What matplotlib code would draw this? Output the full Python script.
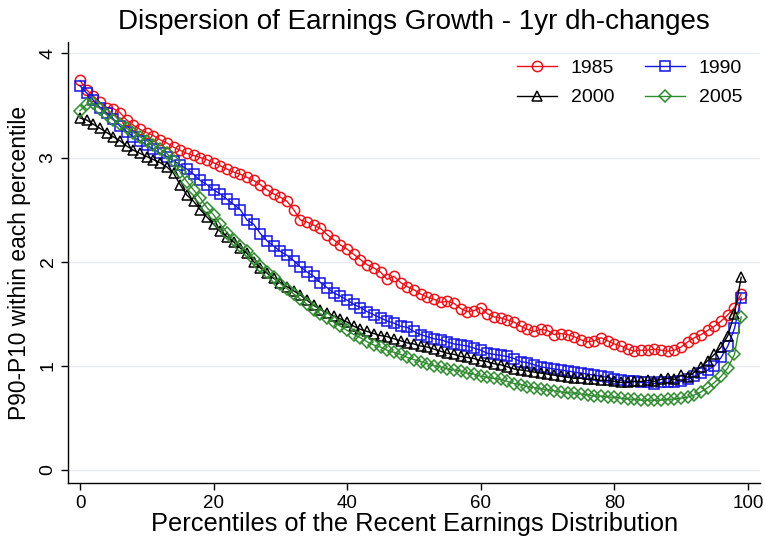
import numpy as np
import matplotlib
matplotlib.use('Agg')
import matplotlib.pyplot as plt

# percentile index 0..99
pct = np.arange(100)

p1985 = [3.74, 3.65, 3.59, 3.53, 3.48, 3.47, 3.43, 3.36, 3.31, 3.27,
         3.24, 3.21, 3.17, 3.14, 3.10, 3.07, 3.04, 3.02, 3.00, 2.98,
         2.95, 2.92, 2.89, 2.86, 2.84, 2.81, 2.78, 2.74, 2.69, 2.65,
         2.62, 2.58, 2.50, 2.40, 2.38, 2.35, 2.32, 2.26, 2.21, 2.16,
         2.12, 2.07, 2.02, 1.97, 1.94, 1.90, 1.83, 1.86, 1.80, 1.76,
         1.73, 1.69, 1.66, 1.64, 1.61, 1.62, 1.60, 1.55, 1.52, 1.53,
         1.56, 1.50, 1.47, 1.46, 1.44, 1.42, 1.38, 1.35, 1.33, 1.35,
         1.34, 1.30, 1.31, 1.30, 1.28, 1.25, 1.23, 1.24, 1.27, 1.24,
         1.21, 1.19, 1.16, 1.14, 1.15, 1.15, 1.16, 1.15, 1.14, 1.15,
         1.18, 1.23, 1.27, 1.30, 1.34, 1.38, 1.43, 1.49, 1.56, 1.69]

p1990 = [3.69, 3.62, 3.55, 3.48, 3.43, 3.37, 3.30, 3.25, 3.20, 3.16,
         3.12, 3.08, 3.04, 3.01, 2.97, 2.93, 2.89, 2.84, 2.78, 2.74,
         2.69, 2.65, 2.60, 2.55, 2.50, 2.40, 2.36, 2.27, 2.20, 2.15,
         2.10, 2.06, 2.01, 1.95, 1.90, 1.86, 1.80, 1.75, 1.70, 1.67,
         1.63, 1.59, 1.56, 1.52, 1.49, 1.46, 1.43, 1.41, 1.38, 1.37,
         1.33, 1.30, 1.28, 1.26, 1.25, 1.23, 1.21, 1.20, 1.19, 1.17,
         1.15, 1.12, 1.11, 1.10, 1.09, 1.07, 1.04, 1.03, 1.01, 0.99,
         0.98, 0.97, 0.96, 0.95, 0.94, 0.93, 0.92, 0.91, 0.90, 0.89,
         0.87, 0.86, 0.85, 0.85, 0.84, 0.84, 0.83, 0.84, 0.84, 0.84,
         0.85, 0.87, 0.90, 0.93, 0.96, 1.00, 1.08, 1.19, 1.36, 1.65]

p2000 = [3.38, 3.36, 3.32, 3.28, 3.24, 3.20, 3.16, 3.11, 3.07, 3.04,
         3.01, 2.98, 2.95, 2.91, 2.85, 2.74, 2.64, 2.58, 2.50, 2.43,
         2.36, 2.29, 2.24, 2.19, 2.13, 2.08, 2.00, 1.94, 1.89, 1.84,
         1.80, 1.76, 1.72, 1.68, 1.63, 1.58, 1.54, 1.51, 1.48, 1.45,
         1.42, 1.38, 1.35, 1.33, 1.31, 1.29, 1.28, 1.26, 1.24, 1.22,
         1.21, 1.19, 1.18, 1.16, 1.14, 1.12, 1.11, 1.09, 1.08, 1.07,
         1.05, 1.04, 1.02, 1.01, 0.99, 0.97, 0.96, 0.95, 0.94, 0.93,
         0.92, 0.91, 0.90, 0.89, 0.88, 0.88, 0.87, 0.87, 0.86, 0.86,
         0.85, 0.84, 0.84, 0.85, 0.85, 0.86, 0.85, 0.87, 0.88, 0.87,
         0.91, 0.89, 0.94, 0.99, 1.05, 1.11, 1.18, 1.29, 1.50, 1.85]

p2005 = [3.45, 3.51, 3.52, 3.47, 3.41, 3.36, 3.32, 3.28, 3.24, 3.20,
         3.16, 3.12, 3.08, 3.04, 2.97, 2.86, 2.77, 2.69, 2.61, 2.52,
         2.45, 2.36, 2.28, 2.21, 2.15, 2.10, 2.03, 1.96, 1.90, 1.85,
         1.79, 1.74, 1.69, 1.64, 1.59, 1.54, 1.50, 1.46, 1.42, 1.38,
         1.34, 1.30, 1.27, 1.23, 1.20, 1.18, 1.15, 1.13, 1.11, 1.08,
         1.06, 1.04, 1.02, 1.00, 0.99, 0.97, 0.96, 0.95, 0.93, 0.92,
         0.90, 0.89, 0.88, 0.87, 0.85, 0.83, 0.82, 0.80, 0.79, 0.78,
         0.77, 0.76, 0.75, 0.74, 0.74, 0.73, 0.72, 0.71, 0.71, 0.70,
         0.70, 0.69, 0.68, 0.68, 0.67, 0.67, 0.67, 0.67, 0.68, 0.68,
         0.69, 0.70, 0.72, 0.75, 0.79, 0.84, 0.90, 0.98, 1.11, 1.47]

years = ['1985', '1990', '2000', '2005']
colors = ['#e8141a', '#1414e0', 'black', '#2e8b2e']
markers = ['o', 's', '^', 'D']

plt.rcParams['font.family'] = ['Liberation Sans', 'DejaVu Sans']

fig = plt.figure(figsize=(7.65, 5.4), dpi=100)
ax = fig.add_axes([0.0893, 0.1056, 0.904, 0.8167])

lines = {}
for yr, vals, c, m in zip(years, [p1985, p1990, p2000, p2005], colors, markers):
    ms = 6.4 if m == 'D' else 7.4
    ln, = ax.plot(pct, vals, color=c, marker=m, markersize=ms,
                  markerfacecolor='none', markeredgecolor=c,
                  markeredgewidth=1.1, linewidth=1.0, label=yr)
    lines[yr] = ln

ax.set_xlim(-1.75, 101.8)
ax.set_ylim(-0.125, 4.11)
ax.set_xticks([0, 20, 40, 60, 80, 100])
ax.set_yticks([0, 1, 2, 3, 4])
ax.grid(axis='y', color='#e6ecf1', linewidth=1.0)
ax.set_axisbelow(True)
for s in ['top', 'right']:
    ax.spines[s].set_visible(False)
for s in ['left', 'bottom']:
    ax.spines[s].set_linewidth(1.0)
ax.tick_params(axis='both', direction='out', length=5, width=1.0,
               labelsize=14)
ax.tick_params(axis='x', labelsize=13.5, pad=4)
for lab in ax.get_yticklabels():
    lab.set_rotation(90)
    lab.set_va('center')

ax.set_xlabel('Percentiles of the Recent Earnings Distribution', fontsize=18.3,
              labelpad=0)
ax.set_ylabel('P90-P10 within each percentile', fontsize=16.4, labelpad=6)
ax.set_title('Dispersion of Earnings Growth - 1yr dh-changes', fontsize=20,
             pad=9)

order = ['1985', '2000', '1990', '2005']
ax.legend([lines[k] for k in order], order, ncol=2, loc='upper right',
          frameon=False, fontsize=14, handlelength=2.05, handletextpad=0.7,
          columnspacing=1.6, bbox_to_anchor=(1.0, 1.0), labelspacing=0.6)

fig.savefig('out.png', dpi=100, facecolor='white')
